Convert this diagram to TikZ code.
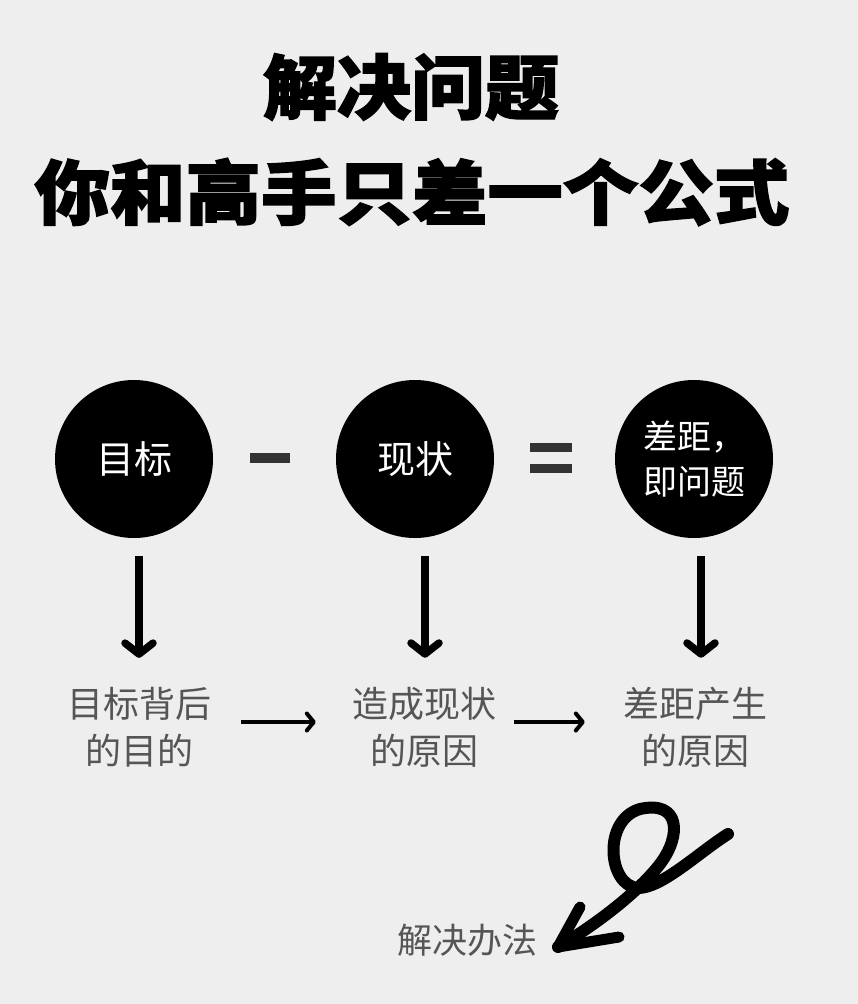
\documentclass[tikz,border=0pt]{standalone}
\usepackage{fontspec}
\usepackage{graphicx}
\usetikzlibrary{arrows.meta,calc}
\newfontfamily\cjk{Noto Sans CJK SC}
\newfontfamily\cjktitle[BoldFeatures={FakeBold=2}]{Noto Sans CJK SC}
\definecolor{bgc}{HTML}{EEEEEE}
\definecolor{txtgray}{HTML}{555555}
\definecolor{opgray}{HTML}{333333}
\tikzset{
  ttl/.style={font=\cjktitle\bfseries\fontsize{74}{80}\selectfont, inner sep=0pt},
  blob/.style={circle, fill=black, minimum size=158pt, inner sep=0pt, text=white,
               font=\cjk\fontsize{38}{44}\selectfont},
  lowtxt/.style={text=txtgray, font=\cjk\fontsize{36}{47}\selectfont, align=center, inner sep=0pt},
  downarr/.style={line width=7.5pt, -{Straight Barb[length=11pt,width=28pt,line cap=round,line join=round]}},
  sidearr/.style={line width=4pt, -{Straight Barb[length=7pt,width=17pt,line cap=round,line join=round]}},
}
\begin{document}
\begin{tikzpicture}[x=1pt,y=-1pt]
\fill[bgc] (0,0) rectangle (858,1004);
\useasboundingbox (0,0) rectangle (858,1004);

\node[ttl] (title1) at (411,87) {\scalebox{1}[0.95]{解决问题}};
\node[ttl] (title2) at (412,192) {\scalebox{1.02}[0.95]{你和高手只差一个公式}};

\node[blob] (c1) at (134,459) {目标};
\node[blob] (c2) at (415,459) {现状};
\node[blob, font=\cjk\fontsize{34}{45}\selectfont, align=left] (c3) at (694,459) {差距，\\即问题};

\fill[opgray] (250,453) rectangle (290,463);
\fill[opgray] (530,443) rectangle (572,452);
\fill[opgray] (530,464) rectangle (572,473);

\node[lowtxt] (t1) at (139,727) {目标背后\\的目的};
\node[lowtxt] (t2) at (424,727) {造成现状\\的原因};
\node[lowtxt] (t3) at (695,727) {差距产生\\的原因};

\draw[downarr] ($(c1.south)+(5,18)$) -- ($(c1.south |- t1.north)+(5,-29)$);
\draw[downarr] ($(c2.south)+(10,18)$) -- ($(c2.south |- t2.north)+(10,-29)$);
\draw[downarr] ($(c3.south)+(7,18)$) -- ($(c3.south |- t3.north)+(7,-29)$);

\draw[sidearr, shorten <=30pt, shorten >=36pt] ([yshift=5pt]t1.east) -- ([yshift=5pt]t2.west);
\draw[sidearr, shorten <=18pt, shorten >=38pt] ([yshift=5pt]t2.east) -- ([yshift=5pt]t3.west);

\node[text=txtgray, font=\cjk\fontsize{35}{40}\selectfont, inner sep=0pt] (sol) at (467,940) {解决办法};
\coordinate (loopstart) at (728,834);
\coordinate (tip) at (558,947);
\draw[line width=12pt, line cap=round, line join=round]
  (loopstart) .. controls (698,853) and (662,888) .. (638,888)
  .. controls (608,886) and (602,820) .. (640,809)
  .. controls (680,800) and (682,835) .. (660,864)
  .. controls (640,890) and (600,922) .. (tip);
\draw[line width=11pt, line cap=round, line join=round]
  (580,907) -- (tip) -- (619,937);
\end{tikzpicture}
\end{document}
